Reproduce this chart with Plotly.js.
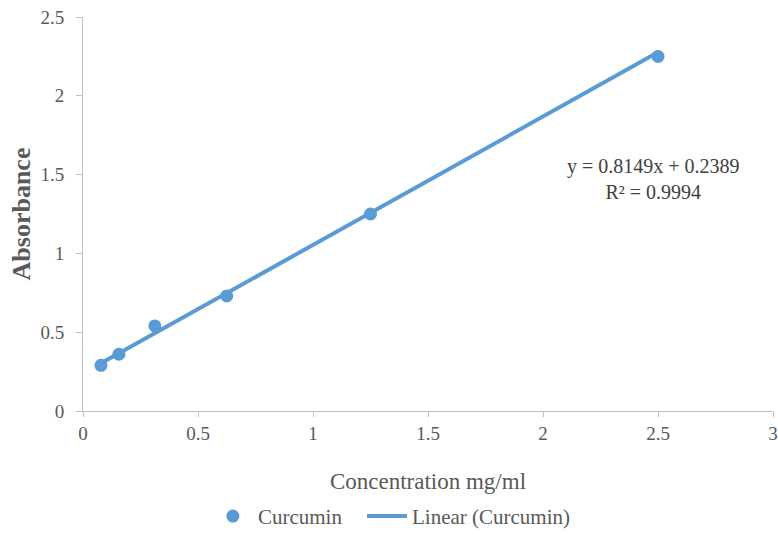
<!DOCTYPE html>
<html>
<head>
<meta charset="utf-8">
<script src="https://cdn.plot.ly/plotly-3.0.1.min.js"></script>
<style>
html,body{margin:0;padding:0;background:#fff;overflow:hidden;}
#chart{width:778px;height:542px;}
</style>
</head>
<body>
<div id="chart"></div>
<script>
// Data
const concentration = [0.078, 0.156, 0.3125, 0.625, 1.25, 2.5];
const absorbance = [0.29, 0.36, 0.54, 0.73, 1.25, 2.25];
const fitSlope = 0.8149;
const fitIntercept = 0.2389;
const rSquared = 0.9994;
const xTicks = [0, 0.5, 1, 1.5, 2, 2.5, 3];
const yTicks = [0, 0.5, 1, 1.5, 2, 2.5];

const xMin = Math.min(...concentration), xMax = Math.max(...concentration);
const fitX = [xMin, xMax];
const fitY = fitX.map(v => fitSlope * v + fitIntercept);

const blue = '#5B9BD5';
const serif = 'Liberation Serif';
const textCol = '#595959';

const traces = [
  {x: concentration, y: absorbance, type: 'scatter', mode: 'markers', name: 'Curcumin',
   marker: {color: blue, size: 13}, legend: 'legend'},
  {x: fitX, y: fitY, type: 'scatter', mode: 'lines', name: 'Linear (Curcumin)',
   line: {color: blue, width: 4}, legend: 'legend2'}
];

const legendBase = {
  orientation: 'h', xanchor: 'left', y: -0.2675, yanchor: 'middle',
  font: {family: serif, size: 21, color: textCol},
  itemwidth: 40, bgcolor: 'rgba(0,0,0,0)'
};

const layout = {
  width: 778, height: 542,
  margin: {l: 83, r: 5, t: 17, b: 125},
  paper_bgcolor: '#fff', plot_bgcolor: '#fff',
  font: {family: serif, color: textCol, size: 19},
  showlegend: true,
  xaxis: {
    range: [0, 3], tickvals: xTicks, ticktext: xTicks.map(String),
    showgrid: false, zeroline: false, showline: true, linecolor: '#BFBFBF', linewidth: 1,
    ticks: 'outside', ticklen: 5, tickcolor: '#BFBFBF',
    tickfont: {family: serif, size: 19, color: textCol},
    title: {text: 'Concentration mg/ml', font: {family: serif, size: 23, color: textCol}, standoff: 30},
    automargin: false, fixedrange: true
  },
  yaxis: {
    range: [0, 2.5], tickvals: yTicks, ticktext: yTicks.map(String),
    showgrid: false, zeroline: false, showline: true, linecolor: '#BFBFBF', linewidth: 1,
    ticks: 'outside', ticklen: 6, tickcolor: '#BFBFBF',
    tickfont: {family: serif, size: 19, color: textCol},
    ticklabelstandoff: 8,
    title: {text: '<b>Absorbance</b>', font: {family: serif, size: 26, color: textCol}, standoff: 2},
    automargin: false, fixedrange: true
  },
  legend: Object.assign({}, legendBase, {x: 0.181}),
  legend2: Object.assign({}, legendBase, {x: 0.4043}),
  annotations: [{
    x: 2.48, y: 1.475, xref: 'x', yref: 'y', showarrow: false,
    text: 'y = ' + fitSlope + 'x + ' + fitIntercept + '<br>R² = ' + rSquared,
    font: {family: serif, size: 20, color: '#404040'}, align: 'center'
  }]
};

Plotly.newPlot('chart', traces, layout, {displayModeBar: false, staticPlot: true});
</script>
</body>
</html>
